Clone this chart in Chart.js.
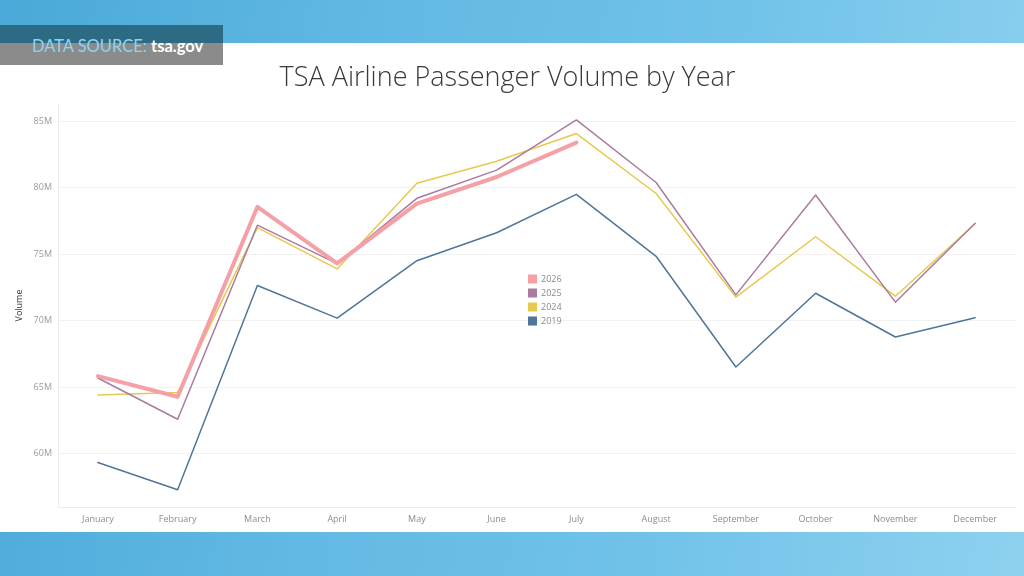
<!DOCTYPE html>
<html>
<head>
<meta charset="utf-8">
<script src="https://cdn.jsdelivr.net/npm/chart.js@4.4.0/dist/chart.umd.min.js"></script>
<style>
  html, body { margin: 0; padding: 0; }
  body {
    width: 1024px; height: 576px; position: relative; overflow: hidden;
    background: linear-gradient(100deg, #4aa9d8 0%, #62b9e3 35%, #70c2e9 65%, #8ed1ef 100%);
  }
  #panel { position: absolute; left: 0; top: 43px; width: 1024px; height: 489px; background: #fff; }
  #graph { position: absolute; left: 0; top: 43px; }
  .band { position: absolute; left: 0; width: 223px; }
  #bandTop { top: 25px; height: 18px; background: #2d6a83; }
  #bandBot { top: 43px; height: 22px; background: #8b8b8b; }
  #source {
    position: absolute; left: 32px; top: 33px; height: 26px; line-height: 26px;
    font-family: Lato, "Open Sans", sans-serif; font-size: 16.5px; color: #8fd3f0;
  }
  #source b { color: #fff; font-weight: 700; }
</style>
</head>
<body>
<div id="panel"></div>
<div class="band" id="bandTop"></div>
<div class="band" id="bandBot"></div>
<div id="source">DATA SOURCE: <b>tsa.gov</b></div>
<canvas id="graph" width="1024" height="489"></canvas>
<script>
const months = ['January', 'February', 'March', 'April', 'May', 'June', 'July', 'August', 'September', 'October', 'November', 'December'];

// passenger volume, millions
const vol2026 = [65.84, 64.29, 78.56, 74.32, 78.81, 80.81, 83.4, null, null, null, null, null];
const vol2025 = [65.7, 62.6, 77.19, 74.3, 79.21, 81.33, 85.1, 80.4, 71.95, 79.46, 71.4, 77.34];
const vol2024 = [64.42, 64.6, 77.0, 73.9, 80.34, 82.0, 84.08, 79.57, 71.78, 76.32, 71.85, 77.3];
const vol2019 = [59.35, 57.3, 72.65, 70.2, 74.52, 76.62, 79.51, 74.85, 66.53, 72.07, 68.78, 70.23];

const yTicks = [60, 65, 70, 75, 80, 85];

// legend drawn inside the plot, like the original
const innerLegend = {
  id: 'innerLegend',
  afterDraw (chart) {
    const ctx = chart.ctx;
    const a = chart.chartArea;
    const x = a.left + 470;
    let y = a.top + 175;
    ctx.save();
    ctx.font = '9px "Open Sans", sans-serif';
    ctx.textBaseline = 'middle';
    chart.data.datasets.forEach(ds => {
      ctx.fillStyle = ds.borderColor;
      ctx.fillRect(x, y - 4.5, 9, 9);
      ctx.fillStyle = '#8a8a8a';
      ctx.fillText(ds.label, x + 13, y + 0.5);
      y += 14;
    });
    ctx.restore();
  }
};

const ctx = document.getElementById('graph').getContext('2d');

new Chart(ctx, {
  type: 'line',
  data: {
    labels: months,
    datasets: [
      { label: '2026', data: vol2026, borderColor: '#f4a0a6', borderWidth: 4 },
      { label: '2025', data: vol2025, borderColor: '#a97c9f', borderWidth: 1.5 },
      { label: '2024', data: vol2024, borderColor: '#e9c84e', borderWidth: 1.5 },
      { label: '2019', data: vol2019, borderColor: '#4f7599', borderWidth: 1.5 }
    ]
  },
  options: {
    responsive: false,
    animation: false,
    layout: { padding: { left: 0, right: 9, top: 0, bottom: 0 } },
    scales: {
      x: {
        offset: true,
        grid: { display: false, drawTicks: false },
        border: { display: true, color: '#ececec' },
        ticks: { color: '#8c8c8c', padding: 7, maxRotation: 0, font: { family: '"Open Sans"', size: 9 } },
        afterFit (scale) { scale.height = 25; }
      },
      y: {
        min: 56,
        max: 86.3,
        afterBuildTicks (scale) { scale.ticks = yTicks.map(v => ({ value: v })); },
        grid: { color: '#f1f1f1', drawTicks: false },
        border: { display: true, color: '#ececec' },
        ticks: {
          color: '#9a9a9a', padding: 6,
          font: { family: '"Open Sans"', size: 9 },
          callback: v => v + 'M'
        },
        title: {
          display: true, text: 'Volume', color: '#333',
          padding: { top: 14, bottom: 0 },
          font: { family: '"Open Sans"', size: 9 }
        },
        afterFit (scale) { scale.width = 58; }
      }
    },
    plugins: {
      legend: { display: false },
      tooltip: { enabled: false },
      title: {
        display: true,
        text: 'TSA Airline Passenger Volume by Year',
        color: '#3a3a3a',
        padding: { top: 19, bottom: 9.6 },
        font: { family: '"Open Sans"', size: 27, weight: 300 }
      }
    },
    elements: {
      line: { tension: 0, borderJoinStyle: 'round', borderCapStyle: 'round' },
      point: { radius: 0 }
    }
  },
  plugins: [innerLegend]
});
</script>
</body>
</html>
